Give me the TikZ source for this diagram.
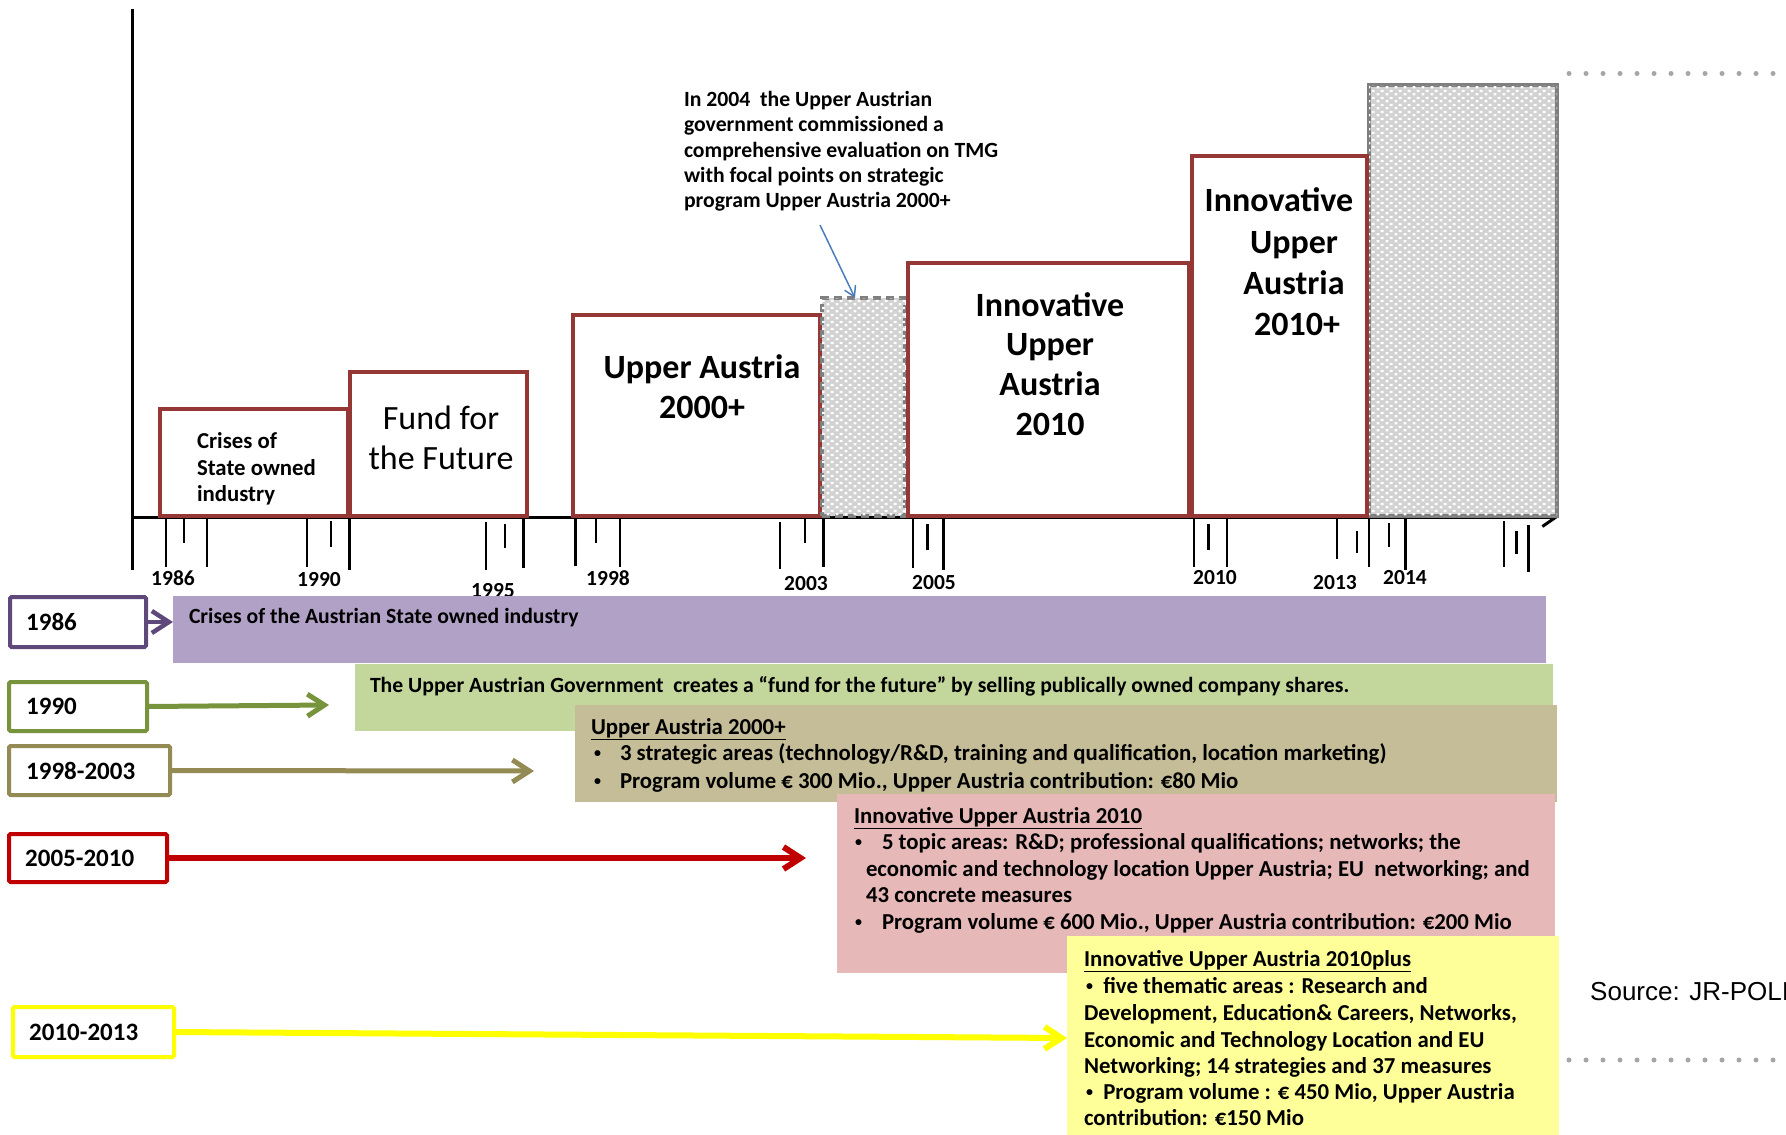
\documentclass[tikz,border=0pt]{standalone}
\usepackage{fontspec}
\setmainfont{Carlito}
\newfontfamily\arialf{Liberation Sans}
\usetikzlibrary{arrows.meta,patterns}
\pgfdeclarepatternformonly{wdots}{\pgfpointorigin}{\pgfpoint{8.6pt}{7.2pt}}{\pgfpoint{8.6pt}{7.2pt}}{%
  \pgfpathrectangle{\pgfpoint{0.6pt}{0.6pt}}{\pgfpoint{3pt}{2.6pt}}%
  \pgfpathrectangle{\pgfpoint{4.9pt}{4.2pt}}{\pgfpoint{3pt}{2.6pt}}%
  \pgfusepath{fill}}
\newcommand\smbul{\raisebox{2.2pt}{\fontsize{14}{14}\selectfont •}}
\definecolor{boxred}{HTML}{953735}
\definecolor{axgray}{HTML}{7F7F7F}
\definecolor{patgray}{HTML}{D2D2D2}
\definecolor{purpB}{HTML}{5F497A}
\definecolor{purpF}{HTML}{B2A1C7}
\definecolor{grnB}{HTML}{77933C}
\definecolor{grnF}{HTML}{C3D69B}
\definecolor{oliB}{HTML}{948A54}
\definecolor{oliF}{HTML}{C4BD97}
\definecolor{redB}{HTML}{C00000}
\definecolor{redF}{HTML}{E6B9B8}
\definecolor{yelB}{HTML}{FFFF00}
\definecolor{yelF}{HTML}{FFFF99}
\definecolor{bluA}{HTML}{4A7EBB}
\definecolor{dotg}{HTML}{A6A6A6}
\tikzset{
  rect/.style={inner sep=0pt, outer sep=0pt, anchor=north west},
  redbox/.style={rect, draw=boxred, line width=4pt, fill=white},
  patbox/.style={rect, fill=patgray, postaction={pattern=wdots, pattern color=white}},
  yrbox/.style={rect, line width=4pt, fill=white, rounded corners=1.5pt},
  band/.style={rect},
  txt/.style={inner sep=0pt, outer sep=0pt, anchor=base west, font=\fontsize{21.7}{26}\selectfont\bfseries},
  btxt/.style={inner sep=0pt, outer sep=0pt, anchor=base west, font=\fontsize{22.8}{27}\selectfont\bfseries},
  big/.style={inner sep=0pt, outer sep=0pt, anchor=base, font=\fontsize{34}{40}\selectfont\bfseries},
  yrlab/.style={inner sep=0pt, anchor=base, font=\fontsize{21.5}{25}\selectfont\bfseries},
  yrtxt/.style={inner sep=0pt, anchor=west, font=\fontsize{25}{30}\selectfont\bfseries},
  tick/.style={line width=2.5pt},
  barb/.style={-{Straight Barb[length=17pt,width=22pt]}},
}
\begin{document}
\begin{tikzpicture}[x=1pt,y=-1pt]
\useasboundingbox (0,0) rectangle (1786,1135);
% axes
\draw[line width=3pt] (132,9) -- (132,570);
\draw[line width=3pt, -{Straight Barb[length=13pt,width=18pt]}] (132,517.5) -- (1558,517.5);
% ticks
\foreach \x/\a/\b in {166/518/567, 184/518/543, 207/518/567,
  307/518/567, 331/521/547, 349.5/518/570,
  486/522/570, 505/524/548, 523.5/518/568,
  575.5/518/566, 596/518/543, 620/518/567,
  780/522/569, 805/518/543, 823.5/518/567,
  913/518/568, 927.5/524/550, 943.6/518/570,
  1194/518/567, 1208.5/524/550, 1227/518/567,
  1337/518/559, 1357/531/553, 1369/518/567,
  1389/523/547, 1405.7/518/570,
  1504/521/567, 1516.7/531/554, 1528.7/525/572}
  \draw[tick] (\x,\a) -- (\x,\b);
% year labels
\node[yrlab] (l1986) at (173,585) {1986};
\node[yrlab] (l1990) at (319,586) {1990};
\node[yrlab] (l1995) at (493,597) {1995};
\node[yrlab] (l1998) at (608,585) {1998};
\node[yrlab] (l2003) at (806,590) {2003};
\node[yrlab] (l2005) at (934,589) {2005};
\node[yrlab] (l2010) at (1215,584) {2010};
\node[yrlab] (l2013) at (1335,589) {2013};
\node[yrlab] (l2014) at (1405,584) {2014};
% programme boxes
\node[patbox, draw=axgray, line width=4pt, minimum width=188pt, minimum height=431pt] (grayB) at (1369,85) {};
\node[redbox, minimum width=188pt, minimum height=107pt] (crisisB) at (160,409) {};
\node[redbox, minimum width=177pt, minimum height=144pt] (fundB) at (350,372) {};
\node[redbox, minimum width=247pt, minimum height=201pt] (uaB) at (573,315) {};
\node[patbox, draw=axgray, line width=4pt, dash pattern=on 8pt off 5pt, minimum width=83pt, minimum height=218pt] (dashB) at (822,298) {};
\node[redbox, minimum width=281pt, minimum height=253pt] (iuaB) at (908,263) {};
\node[redbox, minimum width=175pt, minimum height=360pt] (iupB) at (1192,156) {};
% box texts
\foreach \t/\yy [count=\i] in {Crises of/448, State owned/475, industry/501}
  \node[txt, font=\fontsize{22.8}{27}\selectfont\bfseries] (crisisT\i) at (197,\yy) {\t};
\node[big, font=\fontsize{34}{40}\selectfont] (fundT1) at (441,429) {Fund for};
\node[big, font=\fontsize{34}{40}\selectfont] (fundT2) at (441,469) {the Future};
\node[big] (uaT1) at (702,378) {Upper Austria};
\node[big] (uaT2) at (702,418) {2000+};
\foreach \t/\yy [count=\i] in {Innovative/316, Upper/355, Austria/395, 2010/435}
  \node[big] (iuaT\i) at (1050,\yy) {\t};
\node[big] (iupT1) at (1279,211) {Innovative};
\node[big] (iupT2) at (1294,253) {Upper};
\node[big] (iupT3) at (1294,294) {Austria};
\node[big] (iupT4) at (1297,335) {2010+};
% annotation
\foreach \t/\yy [count=\i] in {In 2004\ \ the Upper Austrian/106, government commissioned a/131.5,
  comprehensive evaluation on TMG/157, with focal points on strategic/182,
  program Upper Austria 2000+/207}
  \node[txt] (annT\i) at (684,\yy) {\t};
\coordinate (annTail) at (820,225);
\coordinate (dashTop) at (855,298);
\draw[bluA, line width=1.5pt, -{Straight Barb[length=10pt,width=12pt]}] (annTail) -- (dashTop);
% bands
\node[band, fill=purpF, minimum width=1373pt, minimum height=67pt] (purpBand) at (173,596) {};
\node[band, fill=grnF, minimum width=1198pt, minimum height=67pt] (grnBand) at (355,664) {};
\node[band, fill=oliF, minimum width=982pt, minimum height=97pt] (oliBand) at (575,705) {};
\node[band, fill=redF, minimum width=718pt, minimum height=179pt] (redBand) at (837,794) {};
\node[band, fill=yelF, minimum width=492pt, minimum height=199pt] (yelBand) at (1067,936) {};
% band texts
\node[txt] (purpT) at (189,623) {Crises of the Austrian State owned industry};
\node[txt] (grnT) at (370,692) {The Upper Austrian Government\ \ creates a “fund for the future” by selling publically owned company shares.};
\node[btxt] (oliT0) at (591,734) {\underline{Upper Austria 2000+}};
\node[btxt] (oliB1) at (594,760) {\smbul};
\node[btxt] (oliT1) at (620,760) {3 strategic areas (technology/R\&D, training and qualification, location marketing)};
\node[btxt] (oliB2) at (594,788) {\smbul};
\node[btxt] (oliT2) at (620,788) {Program volume € 300 Mio., Upper Austria contribution: €80 Mio};
\node[btxt] (redT0) at (854,823) {\underline{Innovative Upper Austria 2010}};
\node[btxt] (redB1) at (855,849) {\smbul};
\node[btxt] (redT1) at (882,849) {5 topic areas: R\&D; professional qualifications; networks; the};
\node[btxt] (redT2) at (866,876) {economic and technology location Upper Austria; EU\ \ networking; and};
\node[btxt] (redT3) at (866,902) {43 concrete measures};
\node[btxt] (redB4) at (855,929) {\smbul};
\node[btxt] (redT4) at (882,929) {Program volume € 600 Mio., Upper Austria contribution: €200 Mio};
\node[btxt] (yelT0) at (1084,966) {\underline{Innovative Upper Austria 2010plus}};
\node[btxt] (yelT1) at (1086,993) {\smbul\ \ five thematic areas : Research and};
\node[btxt] (yelT2) at (1084,1020) {Development, Education\& Careers, Networks,};
\node[btxt] (yelT3) at (1084,1047) {Economic and Technology Location and EU};
\node[btxt] (yelT4) at (1084,1073) {Networking; 14 strategies and 37 measures};
\node[btxt] (yelT5) at (1086,1099) {\smbul\ \ Program volume : € 450 Mio, Upper Austria};
\node[btxt] (yelT6) at (1084,1125) {contribution: €150 Mio};
% year boxes
\node[yrbox, draw=purpB, minimum width=136pt, minimum height=50pt] (y86) at (10,597) {};
\node[yrbox, draw=grnB, minimum width=138pt, minimum height=49pt] (y90) at (9,682) {};
\node[yrbox, draw=oliB, minimum width=161pt, minimum height=49pt] (y98) at (9,746) {};
\node[yrbox, draw=redB, minimum width=158pt, minimum height=48pt] (y05) at (9,834) {};
\node[yrbox, draw=yelB, minimum width=161pt, minimum height=50pt] (y10) at (13,1007) {};
\node[yrtxt] (y86t) at (26,622) {1986};
\node[yrtxt] (y90t) at (26,706.5) {1990};
\node[yrtxt] (y98t) at (26,771) {1998-2003};
\node[yrtxt] (y05t) at (25,858) {2005-2010};
\node[yrtxt] (y10t) at (29,1032) {2010-2013};
% arrows
\coordinate (e86) at (173,622);
\coordinate (e90) at (329,705);
\coordinate (e98) at (534,771);
\coordinate (e05) at (806,858);
\coordinate (e10) at (1067,1038);
\draw[purpB, line width=4.5pt, barb] (y86.east) -- (e86);
\draw[grnB, line width=5pt, barb] (y90.east) -- (e90);
\draw[oliB, line width=5pt, barb] (y98.east) -- (e98);
\draw[redB, line width=6pt, barb] (y05.east) -- (e05);
\draw[yelB, line width=6pt, barb] (y10.east) -- (e10);
% dotted separators
\foreach \i in {0,...,12} {
  \fill[dotg] (1569+17*\i,73.5) circle (2.5pt);
  \fill[dotg] (1569+17*\i,1060) circle (2.5pt);
}
\node[inner sep=0pt, anchor=base west, font=\arialf\fontsize{26}{30}\selectfont] (src) at (1590,1000) {Source: JR-POLI};
\end{tikzpicture}
\end{document}
